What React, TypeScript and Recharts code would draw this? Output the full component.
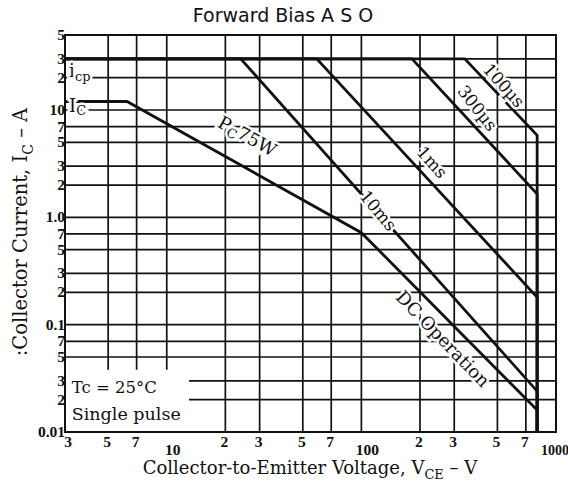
import React from 'react';
import {
  CartesianGrid,
  Line,
  LineChart,
  ReferenceArea,
  ReferenceDot,
  XAxis,
  YAxis,
} from 'recharts';

// Forward bias safe operating area (log-log).
const xTicks = [3, 5, 7, 10, 20, 30, 50, 70, 100, 200, 300, 500, 700, 1000];
const xTickLabels = ['3', '5', '7', '10', '2', '3', '5', '7', '100', '2', '3', '5', '7', '1000'];
const yTicks = [0.01, 0.02, 0.03, 0.05, 0.07, 0.1, 0.2, 0.3, 0.5, 0.7, 1, 2, 3, 5, 7, 10, 20, 30, 50];
const yTickLabels = ['0.01', '2', '3', '5', '7', '0.1', '2', '3', '5', '7', '1.0', '2', '3', '5', '7', '10', '2', '3', '5'];

// VCE (V) / IC (A) corner points of each boundary
const dcV = [3, 6.25, 100, 800, 800];
const dcI = [12, 12, 0.72, 0.016, 0.01];
const ms10V = [3, 24, 800, 800];
const ms10I = [30, 30, 0.024, 0.01];
const ms1V = [3, 59, 800, 800];
const ms1I = [30, 30, 0.18, 0.01];
const us300V = [3, 182, 800, 800];
const us300I = [30, 30, 1.65, 0.01];
const us100V = [3, 340, 800, 800];
const us100I = [30, 30, 5.8, 0.01];

const toPts = (vs: number[], is: number[]) => vs.map((v, k) => ({ v, i: is[k] }));

const SERIF = '"Liberation Serif", "DejaVu Serif", serif';
const WIDE_SERIF = '"DejaVu Serif", "Liberation Serif", serif';
const INK = '#111';

const curves = [
  { key: 'dc', data: toPts(dcV, dcI) },
  { key: '10ms', data: toPts(ms10V, ms10I) },
  { key: '1ms', data: toPts(ms1V, ms1I) },
  { key: '300us', data: toPts(us300V, us300I) },
  { key: '100us', data: toPts(us100V, us100I) },
];

function XTick(props: any) {
  const { x, y, payload } = props;
  const idx = xTicks.indexOf(payload.value);
  const v = payload.value;
  const decade = v === 10 || v === 100 || v === 1000;
  let dx = -1;
  if (v === 3) dx = 3;
  if (v === 10 || v === 100) dx = 6;
  if (v === 1000) dx = -1;
  return (
    <text
      x={x + dx}
      y={y + (decade ? 15 : 7)}
      textAnchor="middle"
      fontFamily={SERIF}
      fontWeight="bold"
      fontSize={v === 1000 ? 14 : 15.5}
      fill={INK}
    >
      {xTickLabels[idx]}
    </text>
  );
}

function YTick(props: any) {
  const { x, y, payload } = props;
  const idx = yTicks.indexOf(payload.value);
  return (
    <text
      x={x + 8}
      y={y + 5}
      textAnchor="end"
      fontFamily={SERIF}
      fontWeight="bold"
      fontSize={15.5}
      fill={INK}
    >
      {yTickLabels[idx]}
    </text>
  );
}

// base text with a lowered subscript, then back on the baseline
function withSub(base: string, s: string, rest: string, size: number) {
  const d = size * 0.3;
  return (
    <>
      <tspan>{base}</tspan>
      <tspan dy={d} fontSize={size * 0.72}>
        {s}
      </tspan>
      <tspan dy={-d}>{rest}</tspan>
    </>
  );
}

// text anchored on a data point, drawn over the grid with a white halo
function tag(content: React.ReactNode, angle: number, anchor: string = 'middle', size = 17) {
  return (p: any) => (
    <text
      x={p.cx}
      y={p.cy}
      transform={`rotate(${angle} ${p.cx} ${p.cy})`}
      textAnchor={anchor}
      dominantBaseline="central"
      fontFamily={WIDE_SERIF}
      fontSize={size}
      fill={INK}
      stroke="#fff"
      strokeWidth={5}
      paintOrder="stroke"
    >
      {content}
    </text>
  );
}

export default function App() {
  return (
    <div style={{ position: 'absolute', left: 0, top: 0, width: 568, height: 484, background: '#fff' }}>
      <LineChart
        width={568}
        height={484}
        margin={{ top: 35, right: 12, bottom: 22, left: 0 }}
      >
        <CartesianGrid stroke={INK} strokeWidth={1.7} />
        <XAxis
          type="number"
          dataKey="v"
          scale="log"
          domain={[3, 1000]}
          ticks={xTicks}
          interval={0}
          allowDataOverflow
          axisLine={false}
          tickLine={false}
          tick={<XTick />}
          height={30}
        />
        <YAxis
          type="number"
          dataKey="i"
          scale="log"
          domain={[0.01, 50]}
          ticks={yTicks}
          interval={0}
          allowDataOverflow
          axisLine={false}
          tickLine={false}
          tick={<YTick />}
          width={65}
        />
        <ReferenceArea x1={3} x2={13} y1={0.01} y2={0.038} fill="#fff" fillOpacity={1} stroke="none" ifOverflow="hidden" />
        <ReferenceArea x1={3} x2={1000} y1={0.01} y2={50} fill="none" stroke={INK} strokeWidth={2} />
        {curves.map((c) => (
          <Line
            key={c.key}
            data={c.data}
            dataKey="i"
            type="linear"
            stroke={INK}
            strokeWidth={2.8}
            dot={false}
            activeDot={false}
            isAnimationActive={false}
          />
        ))}
        <ReferenceDot x={3.15} y={23.5} r={0} shape={tag(withSub('i', 'cp', '', 18), 0, 'start', 18)} />
        <ReferenceDot x={3.15} y={11.2} r={0} shape={tag(withSub('I', 'C', '', 18), 0, 'start', 18)} />
        <ReferenceDot x={26} y={5.8} r={0} shape={tag(withSub('P', 'C', '75W', 18), 29, 'middle', 18)} />
        <ReferenceDot x={540} y={17} r={0} shape={tag('100µs', 48)} />
        <ReferenceDot x={395} y={10.4} r={0} shape={tag('300µs', 52)} />
        <ReferenceDot x={231} y={3.27} r={0} shape={tag('1ms', 48)} />
        <ReferenceDot x={122} y={1.16} r={0} shape={tag('10ms', 50)} />
        <ReferenceDot x={263} y={0.074} r={0} shape={tag('DC  Operation', 46, 'middle', 18)} />
        <ReferenceDot x={3.25} y={0.026} r={0} shape={tag('Tc = 25°C', 0, 'start', 16.5)} />
        <ReferenceDot x={3.25} y={0.0148} r={0} shape={tag('Single pulse', 0, 'start', 17.5)} />
      </LineChart>
      <svg
        width={568}
        height={484}
        style={{ position: 'absolute', left: 0, top: 0, pointerEvents: 'none' }}
      >
        <text x={283} y={22} textAnchor="middle" fontFamily='"DejaVu Sans", sans-serif' fontSize={19} fill={INK}>
          Forward Bias A S O
        </text>
        <text x={310} y={474} textAnchor="middle" fontFamily={WIDE_SERIF} fontSize={18} fill={INK}>
          {withSub('Collector-to-Emitter Voltage, V', 'CE', ' – V', 18)}
        </text>
        <text
          x={27}
          y={232}
          transform="rotate(-90 27 232)"
          textAnchor="middle"
          fontFamily={WIDE_SERIF}
          fontSize={19.5}
          fill={INK}
        >
          {withSub(':Collector Current, I', 'C', ' – A', 19.5)}
        </text>
      </svg>
    </div>
  );
}
